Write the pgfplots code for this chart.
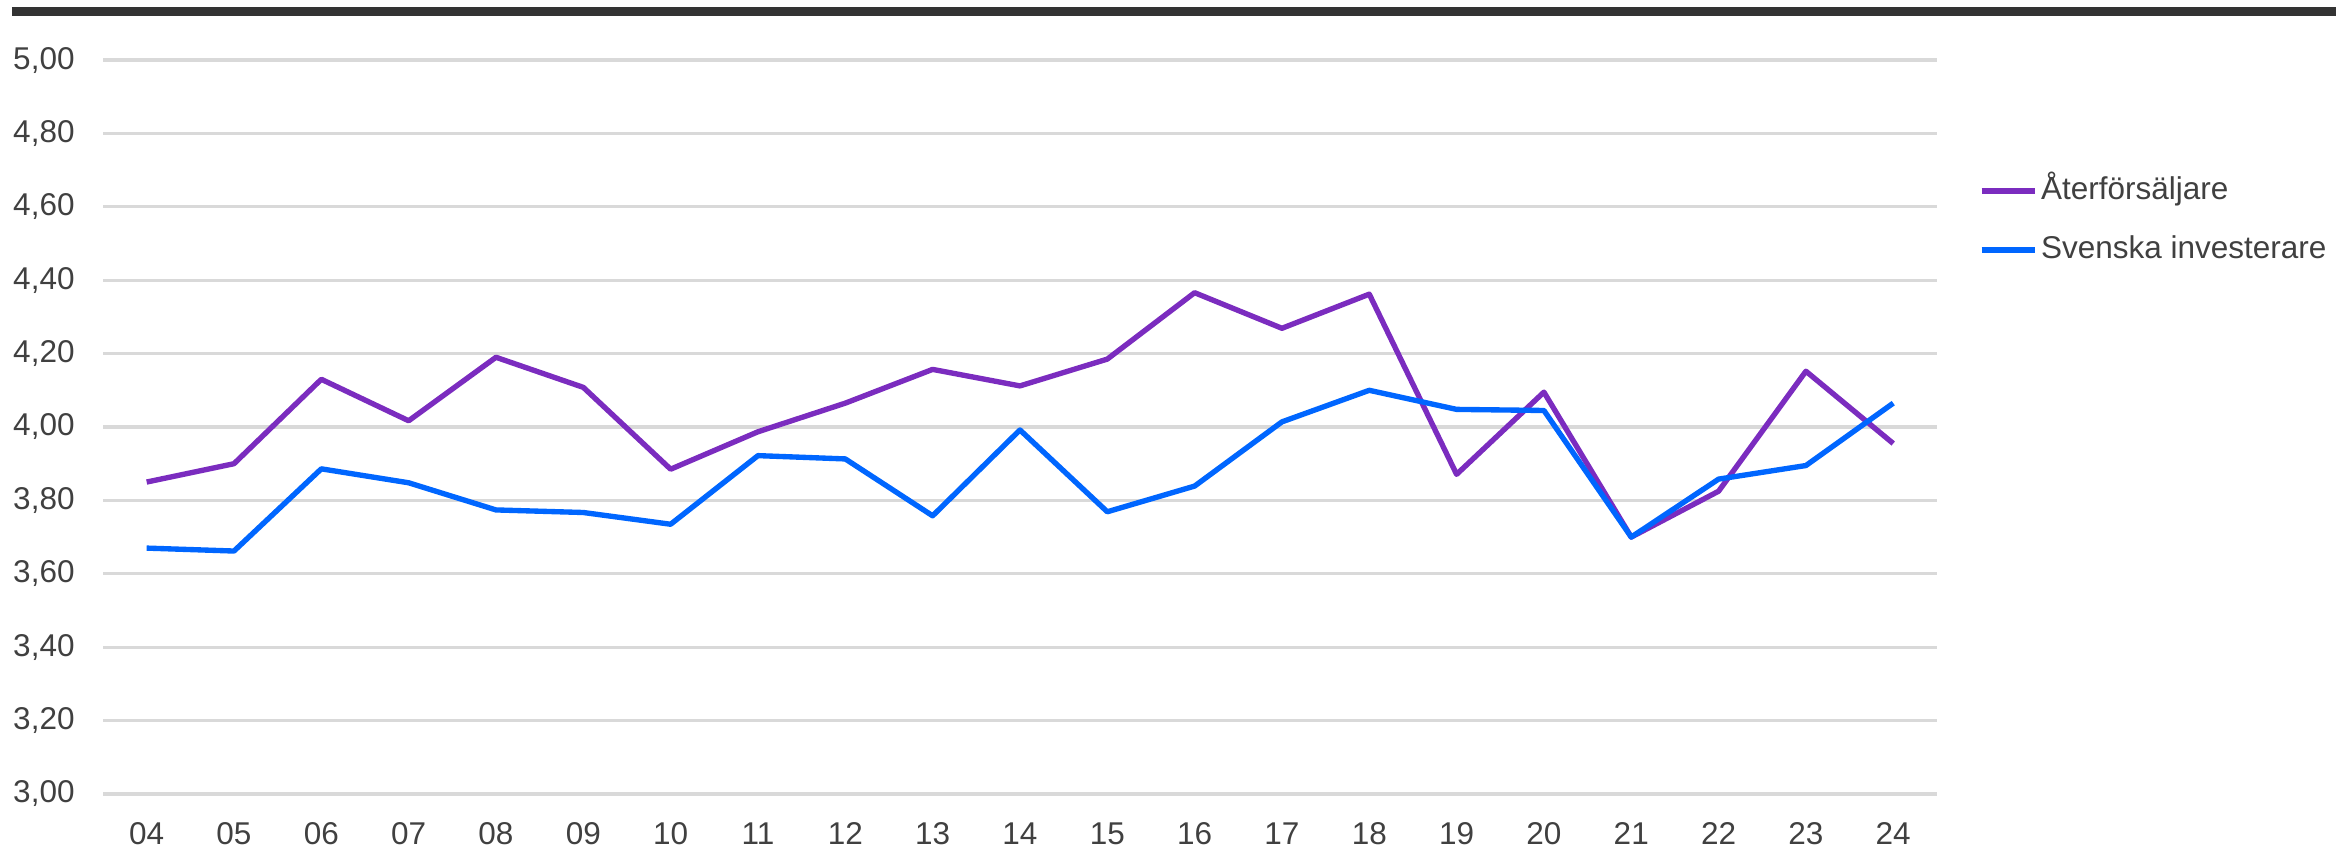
\documentclass[border=0pt]{standalone}
\usepackage{pgfplots}
\pgfplotsset{compat=1.18}
\usepackage{fontspec}
\setmainfont{Liberation Sans}
\definecolor{purp}{HTML}{7B2CBF}
\definecolor{blu}{HTML}{0066FF}
\definecolor{gridc}{HTML}{D9D9D9}
\definecolor{txt}{HTML}{404040}
\definecolor{barc}{HTML}{333333}
\begin{document}
\begin{tikzpicture}
\path[use as bounding box] (0,0) rectangle (741.6pt,-269.2pt);
\draw[barc, line width=2.86pt] (3.8pt,-3.65pt) -- (741.6pt,-3.65pt);
\begin{axis}[
  at={(32.70pt,-252.06pt)}, anchor=south west,
  width=582.2pt, height=233.0pt, scale only axis=true,
  xmin=-0.5, xmax=20.5, ymin=3, ymax=5,
  axis line style={draw=none},
  major tick length=0pt,
  xtick={0,...,20},
  xticklabels={04,05,06,07,08,09,10,11,12,13,14,15,16,17,18,19,20,21,22,23,24},
  ytick={3,3.2,3.4,3.6,3.8,4,4.2,4.4,4.6,4.8,5},
  yticklabels={{3,00},{3,20},{3,40},{3,60},{3,80},{4,00},{4,20},{4,40},{4,60},{4,80},{5,00}},
  ymajorgrids=true,
  grid style={gridc, line width=1pt},
  tick label style={font=\fontsize{10}{12}\selectfont, text=txt},
  xticklabel style={yshift=-5.5pt},
  yticklabel style={xshift=-5.5pt},
  legend style={draw=none, fill=none, at={(1.0225,0.7813)}, anchor=west,
    inner xsep=0pt, inner ysep=0pt, row sep=7.2pt,
    nodes={inner sep=1pt, text height=7.5pt, text depth=2pt},
    font=\fontsize{10}{12}\selectfont, text=txt},
  legend cell align=left,
  every axis plot/.append style={line width=1.7pt, line join=round},
]
\addplot[purp] coordinates {
(0,3.85) (1,3.90) (2,4.13) (3,4.017) (4,4.19) (5,4.108) (6,3.885) (7,3.987) (8,4.065) (9,4.157) (10,4.112)
(11,4.185) (12,4.366) (13,4.269) (14,4.362) (15,3.871) (16,4.095) (17,3.70) (18,3.825) (19,4.152) (20,3.955)};
\addlegendentry{Återförsäljare}
\addplot[blu] coordinates {
(0,3.67) (1,3.662) (2,3.886) (3,3.848) (4,3.774) (5,3.767) (6,3.735) (7,3.922) (8,3.913) (9,3.758) (10,3.992)
(11,3.769) (12,3.839) (13,4.014) (14,4.10) (15,4.048) (16,4.045) (17,3.70) (18,3.858) (19,3.895) (20,4.065)};
\addlegendentry{Svenska investerare}
\end{axis}
\end{tikzpicture}
\end{document}
